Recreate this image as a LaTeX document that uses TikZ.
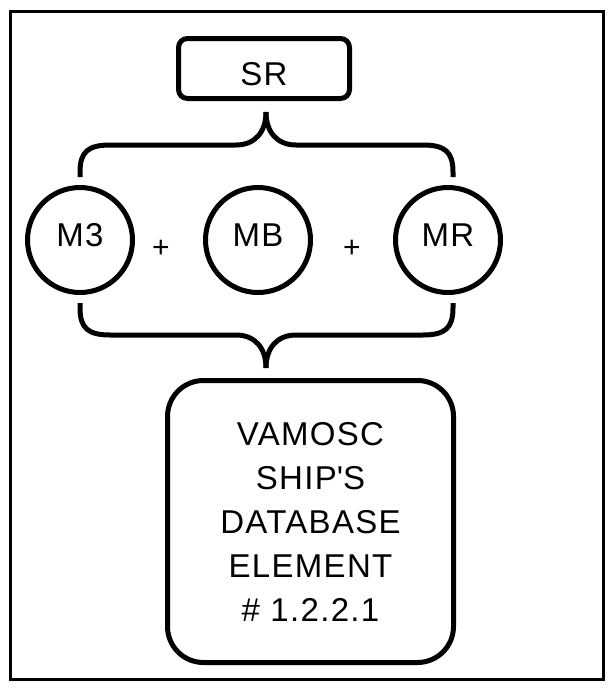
\documentclass[tikz,border=0pt]{standalone}
\usepackage{fontspec}
\setmainfont{Liberation Sans}[LetterSpace=4]
\usepackage{tikz}

\begin{document}
\begin{tikzpicture}[x=1pt,y=-1pt,
  every node/.style={font=\fontsize{33}{44}\selectfont, outer sep=0pt},
  box/.style={draw, line width=5pt, rounded corners=9pt, minimum width=171pt, minimum height=60pt, text height=35pt},
  bigbox/.style={draw, line width=5pt, rounded corners=36pt, minimum width=286pt, minimum height=282pt, align=center},
  part/.style={draw, circle, line width=5pt, minimum size=105pt, text depth=10pt},
  brace/.style={line width=5pt}]
\useasboundingbox (0,0) rectangle (613,688);
\draw[line width=3pt] (10,11) rectangle (603,679);

\node[box] (sr) at (264,68.5) {SR};

\node[part] (m3) at (80,240) {M3};
\node[part] (mb) at (258,240) {MB};
\node[part] (mr) at (448,240) {MR};
\node[font=\fontsize{30}{30}\selectfont] (p1) at (161,249) {+};
\node[font=\fontsize{30}{30}\selectfont] (p2) at (352,249) {+};

\node[bigbox] (elem) at (310.5,521.5) {VAMOSC\\SHIP\textquotesingle S\\DATABASE\\ELEMENT\\\# 1.2.2.1};

% upper brace
\coordinate (uptip) at (266,112);
\draw[brace] (80,177) -- (80,172) .. controls (80,152) and (88,145) .. (110,145) -- (236,145)
  .. controls (255,145) and (266,132) .. (uptip);
\draw[brace] (453,177) -- (453,172) .. controls (453,152) and (445,145) .. (423,145) -- (296,145)
  .. controls (277,145) and (266,132) .. (uptip);

% lower brace
\coordinate (lowtip) at (266,368);
\draw[brace] (80,303) -- (80,308) .. controls (80,328) and (88,335) .. (110,335) -- (236,335)
  .. controls (255,335) and (266,348) .. (lowtip);
\draw[brace] (453,303) -- (453,308) .. controls (453,328) and (445,335) .. (423,335) -- (296,335)
  .. controls (277,335) and (266,348) .. (lowtip);
\end{tikzpicture}
\end{document}
